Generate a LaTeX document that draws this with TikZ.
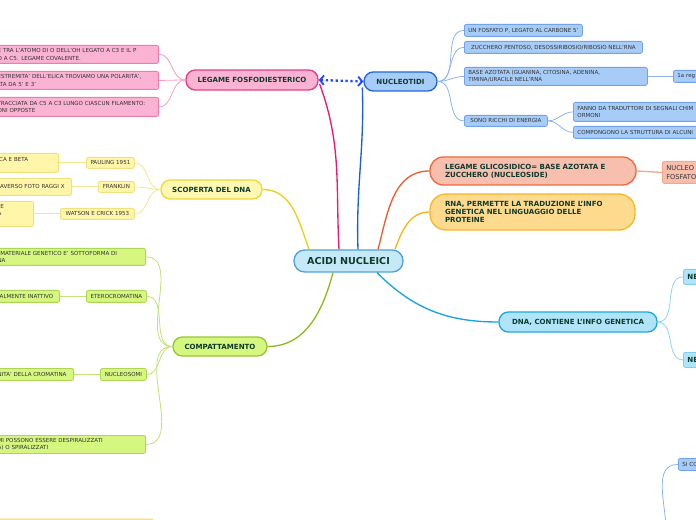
\documentclass[tikz,border=0pt]{standalone}
\usepackage{fontspec}
\setmainfont{DejaVu Sans}
\usetikzlibrary{calc,arrows.meta}

\definecolor{maintext}{HTML}{0F3B2E}
\definecolor{leaftext}{HTML}{333333}
\definecolor{acidifill}{HTML}{C6E9F8}
\definecolor{acididraw}{HTML}{4FA3DA}
\definecolor{fosfofill}{HTML}{FBB3D3}
\definecolor{fosfodraw}{HTML}{E83E86}
\definecolor{fosfoedge}{HTML}{E8196E}
\definecolor{fosfoleaf}{HTML}{F07AAE}
\definecolor{fosfoline}{HTML}{F59CC4}
\definecolor{nucleofill}{HTML}{A7CCF7}
\definecolor{nucleodraw}{HTML}{2468D8}
\definecolor{nucleoedge}{HTML}{1C5FD5}
\definecolor{nucleoleaf}{HTML}{73A2EC}
\definecolor{nucleoline}{HTML}{8DB4F0}
\definecolor{scopfill}{HTML}{FFF8B0}
\definecolor{scopdraw}{HTML}{EFD63A}
\definecolor{scopedge}{HTML}{EDCF1A}
\definecolor{scopleaffill}{HTML}{FFF6AA}
\definecolor{scopleaf}{HTML}{F0E07E}
\definecolor{scopline}{HTML}{F4E690}
\definecolor{compfill}{HTML}{D5F67F}
\definecolor{compdraw}{HTML}{97C733}
\definecolor{compedge}{HTML}{8BBD20}
\definecolor{compleaf}{HTML}{ADD556}
\definecolor{compline}{HTML}{C0E07A}
\definecolor{glicofill}{HTML}{F8BFAE}
\definecolor{glicodraw}{HTML}{EE6A3D}
\definecolor{glicoedge}{HTML}{EE5C30}
\definecolor{glicoline}{HTML}{F7A58C}
\definecolor{rnafill}{HTML}{FDDA8D}
\definecolor{rnadraw}{HTML}{F6B824}
\definecolor{rnaedge}{HTML}{F8B414}
\definecolor{dnafill}{HTML}{B0E4F8}
\definecolor{dnadraw}{HTML}{20A8E3}
\definecolor{dnaedge}{HTML}{17A4E0}
\definecolor{dnaleaf}{HTML}{80CDF1}
\definecolor{dnaline}{HTML}{8FD3F3}
\definecolor{bottomdraw}{HTML}{F8D46E}
\definecolor{bottomfill}{HTML}{FDE7A0}
\definecolor{linkblue}{HTML}{1E4DFF}

\tikzset{
    topic/.style={draw, line width=1pt, rounded corners=7pt, inner sep=0pt, align=center, text=maintext, font=\bfseries\fontsize{5.3}{6.2}\selectfont},
    leaf/.style={draw, line width=0.6pt, rounded corners=1.5pt, inner xsep=3pt, inner ysep=0pt, align=left, text=leaftext, font=\fontsize{4.15}{5.4}\selectfont},
    leafc/.style={leaf, align=center},
    mainedge/.style={line width=1pt},
    subedge/.style={line width=0.6pt},
    linkarrow/.style={draw=linkblue, line width=1.8pt, dash pattern=on 1.7pt off 2pt}
}

\begin{document}
\begin{tikzpicture}[x=0.75pt, y=-0.75pt]
    \useasboundingbox (0,0) rectangle (696,520);
    \clip (0,0) rectangle (696,520);

    \node[topic, fill=acidifill, draw=acididraw, minimum width=81.75pt, minimum height=16.5pt, rounded corners=8pt, font=\bfseries\fontsize{7.2}{8}\selectfont] (acidi) at (348.5,261) {ACIDI NUCLEICI};
    \node[topic, fill=fosfofill, draw=fosfodraw, minimum width=99pt, minimum height=15pt] (fosfo) at (252,80) {LEGAME FOSFODIESTERICO};
    \node[topic, fill=nucleofill, draw=nucleodraw, minimum width=54.75pt, minimum height=14.25pt] (nucleo) at (400.5,81.5) {NUCLEOTIDI};
    \node[topic, fill=scopfill, draw=scopdraw, minimum width=75.75pt, minimum height=14.25pt] (scoperta) at (211.5,189.5) {SCOPERTA DEL DNA};
    \node[topic, fill=compfill, draw=compdraw, minimum width=70.5pt, minimum height=14.25pt] (compatt) at (220,346.5) {COMPATTAMENTO};
    \node[topic, fill=glicofill, draw=glicodraw, align=left, inner xsep=11.25pt, text width=132pt, minimum height=21pt, rounded corners=10pt] (glico) at (533,171) {LEGAME GLICOSIDICO= BASE AZOTATA E\\ZUCCHERO (NUCLEOSIDE)};
    \node[topic, fill=rnafill, draw=rnadraw, align=left, inner xsep=11.25pt, text width=131.25pt, minimum height=27pt, rounded corners=12pt] (rna) at (532.5,212) {RNA, PERMETTE LA TRADUZIONE L'INFO\\GENETICA NEL LINGUAGGIO DELLE\\PROTEINE};
    \node[topic, fill=dnafill, draw=dnadraw, minimum width=118.5pt, minimum height=15pt] (dna) at (578,322) {DNA, CONTIENE L'INFO GENETICA};

    \node[leaf, fill=fosfofill, draw=fosfoleaf, anchor=north east, text width=117.75pt, minimum height=13.5pt] (fosfoa) at (159,45) {E TRA L'ATOMO DI O DELL'OH LEGATO A C3 E IL P\\O A C5. LEGAME COVALENTE.};
    \node[leaf, fill=fosfofill, draw=fosfoleaf, anchor=north east, text width=117.75pt, minimum height=13.5pt] (fosfob) at (159,71) {ESTREMITA' DELL'ELICA TROVIAMO UNA POLARITA',\\LTA DA 5' E 3'};
    \node[leaf, fill=fosfofill, draw=fosfoleaf, anchor=north east, text width=117.75pt, minimum height=14.25pt] (fosfoc) at (159,97) {TRACCIATA DA C5 A C3 LUNGO CIASCUN FILAMENTO:\\ONI OPPOSTE};

    \node[leafc, fill=scopleaffill, draw=scopleaf, anchor=north west, minimum width=36pt, minimum height=8.25pt] (pauling) at (86,157) {PAULING 1951};
    \node[leafc, fill=scopleaffill, draw=scopleaf, anchor=north west, minimum width=27pt, minimum height=8.25pt] (franklin) at (98,181) {FRANKLIN};
    \node[leafc, fill=scopleaffill, draw=scopleaf, anchor=north west, minimum width=55.5pt, minimum height=8.25pt] (watson) at (60,208) {WATSON E CRICK 1953};
    \node[leaf, fill=scopleaffill, draw=scopleaf, anchor=north east, text width=42.75pt, minimum height=14.25pt] (paulingnote) at (59,153) {ICA E BETA\\\mbox{}};
    \node[leaf, fill=scopleaffill, draw=scopleaf, anchor=north east, text width=53.25pt, minimum height=12.75pt] (franklinnote) at (72,178) {RAVERSO FOTO RAGGI X};
    \node[leaf, fill=scopleaffill, draw=scopleaf, anchor=north east, text width=24pt, minimum height=18.75pt] (watsonnote) at (34,201) {\hspace{2pt}E\\A\\\mbox{}};

    \node[leaf, fill=compfill, draw=compleaf, anchor=north east, text width=108pt, minimum height=12.75pt] (compa) at (146,248) {\hspace{2pt}MATERIALE GENETICO E' SOTTOFORMA DI\\NA};
    \node[leafc, fill=compfill, draw=compleaf, anchor=north west, minimum width=45pt, minimum height=9pt] (etero) at (86,290) {ETEROCROMATINA};
    \node[leaf, fill=compfill, draw=compleaf, anchor=north east, text width=45pt, minimum height=9pt] (eteronote) at (60,290) {NALMENTE INATTIVO};
    \node[leafc, fill=compfill, draw=compleaf, anchor=north west, minimum width=34.5pt, minimum height=9pt] (nucleosomi) at (100,368) {NUCLEOSOMI};
    \node[leaf, fill=compfill, draw=compleaf, anchor=north east, text width=54pt, minimum height=9pt] (nucleosominote) at (74,368) {NITA' DELLA CROMATINA};
    \node[leaf, fill=compfill, draw=compleaf, anchor=north east, text width=108pt, minimum height=13.5pt] (compd) at (146,435) {MI POSSONO ESSERE DESPIRALIZZATI\\A) O SPIRALIZZATI};

    \node[leafc, fill=nucleofill, draw=nucleoleaf, anchor=north west, minimum width=88.5pt, minimum height=9pt] (fosfato) at (464,24) {UN FOSFATO P, LEGATO AL CARBONE 5'};
    \node[leafc, fill=nucleofill, draw=nucleoleaf, anchor=north west, minimum width=133.5pt, minimum height=9pt] (zucchero) at (464,41) {ZUCCHERO PENTOSO, DESOSSIRIBOSIO/RIBOSIO NELL'RNA};
    \node[leaf, fill=nucleofill, draw=nucleoleaf, anchor=north west, text width=131.25pt, minimum height=13.5pt] (base) at (464,67) {BASE AZOTATA (GUANINA, CITOSINA, ADENINA,\\TIMINA/URACILE NELL'RNA};
    \node[leaf, fill=nucleofill, draw=nucleoleaf, anchor=north west, text width=60pt, minimum height=9pt] (regola) at (673,70) {1a reg};
    \node[leafc, fill=nucleofill, draw=nucleoleaf, anchor=north west, minimum width=62.25pt, minimum height=8.25pt] (energia) at (464,115) {SONO RICCHI DI ENERGIA};
    \node[leaf, fill=nucleofill, draw=nucleoleaf, anchor=north west, text width=140pt, minimum height=14.25pt] (segnali) at (573,102) {FANNO DA TRADUTTORI DI SEGNALI CHIM\\ORMONI};
    \node[leaf, fill=nucleofill, draw=nucleoleaf, anchor=north west, text width=140pt, minimum height=9pt] (struttura) at (573,126) {COMPONGONO LA STRUTTURA DI ALCUNI};

    \node[leaf, fill=glicofill, draw=glicoline, anchor=north west, text width=60pt, minimum height=16.5pt, font=\fontsize{5}{6.6}\selectfont] (nucleotide) at (662,161) {NUCLEO\\FOSFATO};
    \node[leaf, fill=dnafill, draw=dnaleaf, anchor=north west, text width=60pt, minimum height=11.25pt, font=\bfseries\fontsize{5.3}{6.2}\selectfont, text=maintext] (dnaa) at (683,269) {NE};
    \node[leaf, fill=dnafill, draw=dnaleaf, anchor=north west, text width=60pt, minimum height=11.25pt, font=\bfseries\fontsize{5.3}{6.2}\selectfont, text=maintext] (dnab) at (683,352) {NE};
    \node[leaf, fill=nucleofill, draw=nucleoleaf, anchor=north west, text width=60pt, minimum height=9pt] (sicodna) at (678,458) {SI CO};
    \node[leaf, fill=bottomfill, draw=bottomdraw, anchor=north west, minimum width=122pt, minimum height=20pt] (bottombox) at (-10,518.5) {};
    \coordinate (sitail) at (666,530);

    \draw[mainedge, fosfoedge] ($(acidi.north)+(-9.5,0)$) to[out=93, in=-70] ($(fosfo.east)+(1,4)$);
    \draw[mainedge, nucleoedge] ($(acidi.north)+(9.5,0)$) to[out=92, in=-88] ($(nucleo.west)+(-1,6)$);
    \draw[mainedge, glicoedge] ($(acidi.north)+(29.5,0)$) to[out=75, in=180] (glico.west);
    \draw[mainedge, rnaedge] ($(acidi.north)+(46.5,0)$) to[out=70, in=180] (rna.west);
    \draw[mainedge, scopedge] ($(acidi.north)+(-39.5,0)$) to[out=110, in=0] (scoperta.east);
    \draw[mainedge, compedge] ($(acidi.south)+(-15.5,0)$) to[out=-105, in=0] (compatt.east);
    \draw[mainedge, dnaedge] ($(acidi.south)+(28.5,0)$) to[out=-45, in=180] (dna.west);
    \draw[linkarrow, {Straight Barb[length=3pt,width=7pt,line width=1.4pt]}-{Straight Barb[length=3pt,width=7pt,line width=1.4pt]}] (fosfo.east) -- (nucleo.west);

    \draw[subedge, fosfoline] (fosfo.west) to[out=180, in=0] (fosfoa.east);
    \draw[subedge, fosfoline] (fosfo.west) to[out=180, in=0] (fosfob.east);
    \draw[subedge, fosfoline] (fosfo.west) to[out=180, in=0] (fosfoc.east);

    \draw[subedge, scopline] (scoperta.west) to[out=180, in=0] (pauling.east);
    \draw[subedge, scopline] (scoperta.west) to[out=180, in=0] (franklin.east);
    \draw[subedge, scopline] (scoperta.west) to[out=180, in=0] (watson.east);
    \draw[subedge, scopline] (pauling.west) -- (paulingnote.east |- pauling.west);
    \draw[subedge, scopline] (franklin.west) -- (franklinnote.east |- franklin.west);
    \draw[subedge, scopline] (watson.west) -- (watsonnote.east |- watson.west);

    \draw[subedge, compline] (compatt.west) to[out=180, in=0] (compa.east);
    \draw[subedge, compline] (compatt.west) to[out=180, in=0] (etero.east);
    \draw[subedge, compline] (compatt.west) to[out=180, in=0] (nucleosomi.east);
    \draw[subedge, compline] (compatt.west) to[out=180, in=0] (compd.east);
    \draw[subedge, compline] (etero.west) -- (eteronote.east);
    \draw[subedge, compline] (nucleosomi.west) -- (nucleosominote.east);

    \draw[subedge, nucleoline] (nucleo.east) to[out=0, in=180] (fosfato.west);
    \draw[subedge, nucleoline] (nucleo.east) to[out=0, in=180] (zucchero.west);
    \draw[subedge, nucleoline] (nucleo.east) to[out=0, in=180] (base.west);
    \draw[subedge, nucleoline] (nucleo.east) to[out=0, in=180] (energia.west);
    \draw[subedge, nucleoline] (base.east) -- (regola.west);
    \draw[subedge, nucleoline] (energia.east) to[out=0, in=180] (segnali.west);
    \draw[subedge, nucleoline] (energia.east) to[out=0, in=180] (struttura.west);

    \draw[line width=1pt, glicoline] (glico.east) -- (nucleotide.west);
    \draw[subedge, dnaline] (dna.east) to[out=0, in=180] (dnaa.west);
    \draw[subedge, dnaline] (dna.east) to[out=0, in=180] (dnab.west);
    \draw[subedge, nucleoline] (sitail) to[out=90, in=180] (sicodna.west);
\end{tikzpicture}
\end{document}
